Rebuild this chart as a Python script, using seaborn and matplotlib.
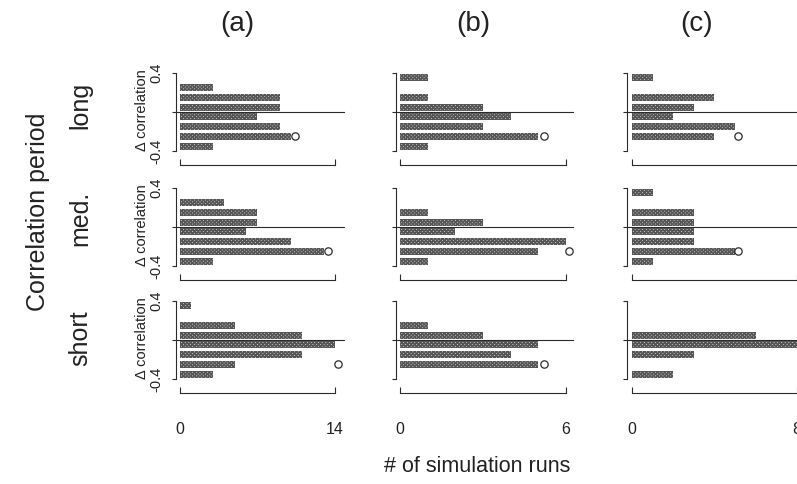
import numpy as np
import pandas as pd
import matplotlib
matplotlib.use("Agg")
import matplotlib.pyplot as plt
import seaborn as sns

# ---- data ----
bin_centers = [0.35, 0.25, 0.15, 0.05, -0.05, -0.15, -0.25, -0.35]
row_names = ["long", "med.", "short"]
col_names = ["(a)", "(b)", "(c)"]
x_max = [14, 6, 8]

a_long = [0, 3, 9, 9, 7, 9, 10, 3]
a_med = [0, 4, 7, 7, 6, 10, 13, 3]
a_short = [1, 0, 5, 11, 14, 11, 5, 3]
b_long = [1, 0, 1, 3, 4, 3, 5, 1]
b_med = [0, 0, 1, 3, 2, 6, 5, 1]
b_short = [0, 0, 1, 3, 5, 4, 5, 0]
c_long = [1, 0, 4, 3, 2, 5, 4, 0]
c_med = [1, 0, 3, 3, 3, 3, 5, 1]
c_short = [0, 0, 0, 6, 8, 3, 0, 2]

# open-circle markers (x = # runs, y = delta correlation)
circle_x = {("long", "(a)"): 10.4, ("med.", "(a)"): 13.4, ("short", "(a)"): 14.3,
            ("long", "(b)"): 5.2, ("med.", "(b)"): 6.1, ("short", "(b)"): 5.2,
            ("long", "(c)"): 5.15, ("med.", "(c)"): 5.15}
circle_y = -0.25

counts = {("long", "(a)"): a_long, ("med.", "(a)"): a_med, ("short", "(a)"): a_short,
          ("long", "(b)"): b_long, ("med.", "(b)"): b_med, ("short", "(b)"): b_short,
          ("long", "(c)"): c_long, ("med.", "(c)"): c_med, ("short", "(c)"): c_short}

# ---- style ----
sns.set_theme(style="white")
plt.rcParams["font.family"] = ["Liberation Sans", "DejaVu Sans"]
plt.rcParams["hatch.linewidth"] = 1.1

W, H = 797, 484
fig = plt.figure(figsize=(W / 100, H / 100), dpi=100)
fig.patch.set_facecolor("white")

# pixel geometry: column (left px, right px, zero px, px per unit)
col_geom = [(176, 345, 180, 11.07), (396, 574, 400, 27.67), (627, 822, 632, 20.6)]
row_geom = [(73, 151), (188, 266), (301, 379)]

ink = "#2b2b2b"
for ri, rname in enumerate(row_names):
    top, bot = row_geom[ri]
    for ci, cname in enumerate(col_names):
        l, r, z, ppu = col_geom[ci]
        ax = fig.add_axes([l / W, 1 - bot / H, (r - l) / W, (bot - top) / H])
        df = pd.DataFrame({"delta": bin_centers, "runs": counts[(rname, cname)]})
        sns.barplot(data=df, x="runs", y="delta", orient="y", native_scale=True,
                    width=0.72, color="#cfcfcf", errorbar=None, ax=ax,
                    linewidth=0)
        for p in ax.patches:
            p.set_hatch("x" * 9)
            p.set_edgecolor("#555555")
            p.set_linewidth(0)
        cx = circle_x.get((rname, cname))
        if cx is not None:
            sns.scatterplot(x=[cx], y=[circle_y], ax=ax, marker="o", s=28,
                            facecolor="white", edgecolor=ink, linewidth=0.9,
                            zorder=5, legend=False)
        ax.axhline(0, color=ink, lw=0.8, zorder=4)
        ax.set_xlim((l - z) / ppu, (r - z) / ppu)
        ax.set_ylim(-0.4, 0.4)
        ax.set_xlabel("")
        ax.set_ylabel("")
        ax.patch.set_alpha(0)
        for s in ["top", "right"]:
            ax.spines[s].set_visible(False)
        ax.spines["left"].set_bounds(-0.4, 0.4)
        ax.spines["left"].set_color(ink)
        ax.spines["left"].set_linewidth(0.8)
        ax.spines["bottom"].set_position(("outward", 10))
        ax.spines["bottom"].set_bounds(0, x_max[ci])
        ax.spines["bottom"].set_color(ink)
        ax.spines["bottom"].set_linewidth(0.8)
        ax.set_yticks([-0.4, 0, 0.4])
        ax.tick_params(axis="y", direction="out", length=3, width=0.8, color=ink,
                       left=True, pad=6)
        if ci == 0:
            ax.set_yticklabels(["-0.4", "", "0.4"], rotation=90, va="center",
                               fontsize=10.5, color="#222")
        else:
            ax.set_yticklabels([])
        ax.set_xticks([0, x_max[ci]])
        ax.tick_params(axis="x", direction="in", length=4, width=0.8, color=ink,
                       bottom=True, pad=21)
        if ri == 2:
            ax.set_xticklabels([str(0), str(x_max[ci])], fontsize=11.5, color="#222")
        else:
            ax.set_xticklabels([])
        if ri == 0:
            fig.text([237, 473, 697][ci] / W, 1 - 24 / H, cname,
                     ha="center", va="center", fontsize=20, color="#222")
        if ci == 0:
            fig.text(142 / W, 1 - ((top + bot) / 2 - 2) / H, "Δ correlation",
                     rotation=90, ha="center", va="center", fontsize=10.5,
                     color="#222")
            fig.text(80 / W, 1 - [105, 218, 338][ri] / H, rname, rotation=90,
                     ha="center", va="center", fontsize=18, color="#222")

fig.text(38 / W, 1 - 212 / H, "Correlation period", rotation=90,
         ha="center", va="center", fontsize=18, color="#222")
fig.text(477 / W, 1 - 467 / H, "# of simulation runs", ha="center",
         va="center", fontsize=15.5, color="#222")

fig.savefig("out.png", dpi=100, facecolor="white")
